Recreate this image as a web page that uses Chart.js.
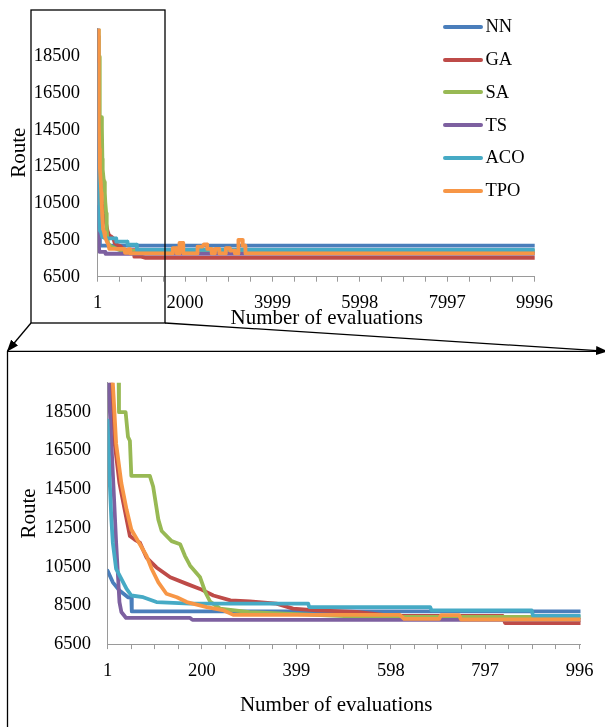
<!DOCTYPE html>
<html><head><meta charset="utf-8">
<script src="https://cdn.jsdelivr.net/npm/chart.js@4.4.1/dist/chart.umd.min.js"></script>
<style>
html,body{margin:0;padding:0;background:#fff;}
#wrap{position:relative;width:605px;height:727px;overflow:hidden;background:#fff;}
#topc{position:absolute;left:0;top:0;}
#botc{position:absolute;left:0;top:355px;}
#legend{position:absolute;left:0;top:0;width:605px;height:1px;font-family:'Liberation Serif',serif;font-size:18.5px;color:#000;}
.li{position:absolute;left:443px;height:24px;display:flex;align-items:center;white-space:nowrap;}
.sw{width:39.5px;height:4px;border-radius:2px;margin-right:3px;}
#ann{position:absolute;left:0;top:0;pointer-events:none;}
</style></head>
<body><div id="wrap">
<canvas id="topc" width="605" height="340"></canvas>
<canvas id="botc" width="605" height="372"></canvas>
<div id="legend"></div>
<svg id="ann" width="605" height="727">
<defs>
<marker id="ah" markerWidth="12" markerHeight="9" refX="11" refY="4.5" orient="auto" markerUnits="userSpaceOnUse"><path d="M0,0 L12,4.5 L0,9 z" fill="#000"/></marker>
</defs>
<rect x="31" y="10" width="134" height="313" fill="none" stroke="#000" stroke-width="1.3"/>
<line x1="31" y1="323" x2="7.5" y2="351" stroke="#000" stroke-width="1.3" marker-end="url(#ah)"/>
<line x1="165" y1="323" x2="607" y2="351.3" stroke="#000" stroke-width="1.3" marker-end="url(#ah)"/>
<line x1="7.5" y1="351.3" x2="605" y2="351.3" stroke="#000" stroke-width="1.3"/>
<line x1="7.5" y1="351" x2="7.5" y2="727" stroke="#000" stroke-width="1.3"/>
</svg>
</div>
<script>
// ---- data ----
const seriesNames = ['NN','GA','SA','TS','ACO','TPO'];
const seriesColors = ['#4A7EBB','#BE4B48','#98B954','#7D60A0','#46AAC5','#F79646'];

// [evaluation, route length]
const NN = [[1,10290],[12,9690],[26,9270],[44,8920],[51,8900],[52,8190],[10000,8190]];
const GA = [[1,25000],[10,19600],[16,16850],[26,14810],[37,13450],[48,12080],[58,11900],[69,11740],[83,10970],[104,10460],[133,9950],[168,9610],[196,9350],[224,9010],[260,8760],[301,8700],[357,8590],[392,8330],[442,8240],[526,8160],[582,8010],[620,7950],[834,7950],[839,7590],[1000,7590],[1100,7520],[10000,7520]];
const SA = [[1,32000],[24,21000],[25,18480],[39,18480],[44,17200],[48,17000],[51,15190],[90,15190],[97,14640],[108,12930],[115,12340],[136,11820],[154,11660],[164,11060],[175,10550],[196,9950],[207,9180],[217,8700],[238,8330],[300,8150],[400,8050],[500,7950],[620,7900],[10000,7900]];
const TS = [[1,21000],[19,11740],[26,8670],[30,8160],[40,7850],[175,7850],[180,7750],[10000,7750]];
const ACO = [[1,18050],[5,15150],[9,12930],[12,11740],[19,10380],[30,9870],[41,9350],[51,9010],[76,8920],[104,8670],[175,8590],[424,8590],[426,8410],[681,8410],[684,8240],[895,8240],[898,7960],[10000,7960]];
const TPO = [[1,26000],[12,20000],[19,16850],[30,14810],[41,13450],[51,12420],[69,11660],[83,11060],[94,10380],[108,9690],[125,9100],[147,8920],[168,8670],[210,8410],[246,8240],[266,8010],[617,8010],[626,7800],[700,7800],[704,8000],[742,8000],[746,7770],[1716,7770],[1720,8060],[1805,8060],[1810,7770],[1868,7770],[1872,8340],[1955,8340],[1960,7770],[2280,7770],[2285,8140],[2400,8140],[2432,8260],[2505,8260],[2508,8010],[2605,8010],[2610,7770],[2684,7770],[2688,8010],[2780,8010],[2785,7770],[2929,7770],[2933,8060],[3027,8060],[3030,7920],[3138,7920],[3141,7770],[3217,7770],[3221,8510],[3315,8510],[3320,8190],[3378,8190],[3382,7770],[10000,7770]];
const seriesData = [NN, GA, SA, TS, ACO, TPO];

const yTickValues = [6500, 8500, 10500, 12500, 14500, 16500, 18500];
const yMin = 6500, yMax = 20000;
const topXLabels = [1, 2000, 3999, 5998, 7997, 9996];
const topXMax = 10000;
const botXLabels = [1, 200, 399, 598, 797, 996];
const botXMax = 998;
const xTitle = 'Number of evaluations';
const yTitle = 'Route';

// ---- chart builder ----
const FONT = "'Liberation Serif', 'Times New Roman', serif";
const AXIS_COLOR = '#9a9a9a';

function buildTicks(labels, minor) {
  const t = [];
  for (let i = 0; i < labels.length - 1; i++) {
    const a = labels[i], b = labels[i + 1];
    for (let k = 0; k < minor; k++) t.push({value: a + (b - a) * k / minor});
  }
  t.push({value: labels[labels.length - 1]});
  return t;
}

function datasets() {
  return seriesNames.map((name, i) => ({
    label: name,
    data: seriesData[i].map(p => ({x: p[0], y: p[1]})),
    borderColor: seriesColors[i],
    backgroundColor: seriesColors[i],
    borderWidth: 3.8,
    pointRadius: 0,
    tension: 0,
    fill: false,
    borderJoinStyle: 'round',
    borderCapStyle: 'round',
    order: seriesNames.length - i
  }));
}

function makeChart(id, cfg) {
  return new Chart(document.getElementById(id), {
    type: 'line',
    data: {datasets: datasets()},
    options: {
      responsive: false,
      animation: false,
      devicePixelRatio: 1,
      layout: {padding: cfg.padding},
      plugins: {legend: {display: false}, tooltip: {enabled: false}},
      scales: {
        x: {
          type: 'linear', min: 1, max: cfg.xMax,
          afterBuildTicks: s => { s.ticks = buildTicks(cfg.labels, 4); },
          afterFit: s => { s.height = cfg.xHeight; },
          ticks: {
            autoSkip: false, maxRotation: 0, minRotation: 0, padding: cfg.xTickPad, color: '#000',
            font: {family: FONT, size: 18.5},
            callback: v => cfg.labels.includes(v) ? String(v) : ''
          },
          grid: {display: true, drawOnChartArea: false, drawTicks: true, tickLength: 5, color: AXIS_COLOR, lineWidth: 1},
          border: {display: true, color: AXIS_COLOR, width: 1},
          title: {display: true, text: cfg.xTitleText, color: '#000', font: {family: FONT, size: 21}, padding: {top: 0, bottom: 0}}
        },
        y: {
          type: 'linear', min: yMin, max: yMax,
          afterBuildTicks: s => { s.ticks = yTickValues.map(v => ({value: v})); },
          afterFit: s => { s.width = cfg.yWidth; },
          ticks: {padding: cfg.yTickPad, color: '#000', font: {family: FONT, size: 18.5}, callback: v => String(v)},
          grid: {display: false, drawTicks: false},
          border: {display: true, color: AXIS_COLOR, width: 1},
          title: {display: true, text: yTitle, color: '#000', font: {family: FONT, size: 21}, padding: {top: cfg.yTitlePad, bottom: 0}}
        }
      }
    }
  });
}

makeChart('topc', {
  padding: {left: 0, top: 7, right: 70.3, bottom: 9.4},
  xMax: topXMax, labels: topXLabels, xHeight: 53.9, xTickPad: 10,
  xTitleText: '    ' + xTitle,
  yWidth: 97.7, yTickPad: 17.7, yTitlePad: 7
});

makeChart('botc', {
  padding: {left: 0, top: 25.2, right: 24.5, bottom: 9.4},
  xMax: botXMax, labels: botXLabels, xHeight: 73.5, xTickPad: 11,
  xTitleText: xTitle + '   ',
  yWidth: 107.6, yTickPad: 16.6, yTitlePad: 16.4
});

// ---- legend ----
const lg = document.getElementById('legend');
seriesNames.forEach((name, i) => {
  const d = document.createElement('div');
  d.className = 'li';
  d.style.top = (14.7 + i * 32.8) + 'px';
  const sw = document.createElement('span');
  sw.className = 'sw';
  sw.style.background = seriesColors[i];
  const tx = document.createElement('span');
  tx.textContent = name;
  d.appendChild(sw); d.appendChild(tx);
  lg.appendChild(d);
});
</script>
</body></html>
